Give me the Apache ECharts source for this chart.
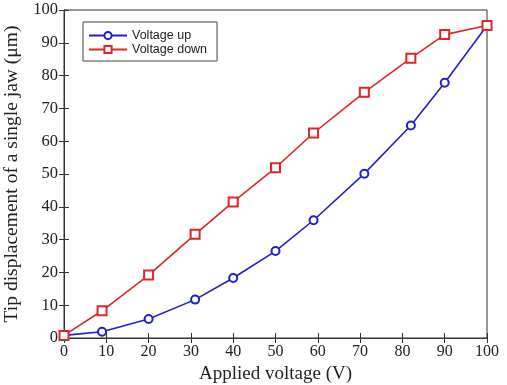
<!DOCTYPE html>
<html><head><meta charset="utf-8">
<script src="https://cdn.jsdelivr.net/npm/echarts@6/dist/echarts.min.js"></script>
<style>html,body{margin:0;padding:0;background:#fff}#c{width:507px;height:385px}</style>
</head><body><div id="c"></div>
<script>
const upVoltage = [0, 9, 20, 31, 40, 50, 59, 71, 82, 90, 100];
const upDisp = [0.8, 1.9, 5.8, 11.7, 18.3, 26.5, 35.9, 50.1, 64.8, 77.8, 95.3];
const downVoltage = [0, 9, 20, 31, 40, 50, 59, 71, 82, 90, 100];
const downDisp = [0.8, 8.3, 19.2, 31.6, 41.5, 51.9, 62.5, 74.9, 85.3, 92.5, 95.3];
const seriesNames = ['Voltage up', 'Voltage down'];
const xTitle = 'Applied voltage (V)';
const yTitle = 'Tip displacement of a single jaw (μm)';

const pair = (xs, ys) => xs.map((x, i) => [x, ys[i]]);
const serif = 'Liberation Serif';
const axisCommon = {
  type: 'value', min: 0, max: 100, interval: 10,
  axisLine: { show: true, lineStyle: { color: '#333', width: 1 } },
  axisTick: { show: true, inside: true, length: 5, lineStyle: { color: '#333' } },
  splitLine: { show: false }
};
const chart = echarts.init(document.getElementById('c'));
chart.setOption({
  backgroundColor: '#fff',
  animation: false,
  grid: { left: 64, right: 20, top: 10, bottom: 47, show: true, borderColor: '#333', borderWidth: 1,
          containLabel: false, outerBoundsMode: 'none' },
  legend: {
    orient: 'vertical', left: 83, top: 22, itemWidth: 38, itemHeight: 9, itemGap: 1,
    backgroundColor: '#fff', borderColor: '#444', borderWidth: 1, padding: [7, 10, 5, 5],
    textStyle: { fontFamily: 'Liberation Sans', fontSize: 12.5, color: '#222' },
    data: seriesNames
  },
  xAxis: [
    Object.assign({}, axisCommon, {
      position: 'bottom',
      name: xTitle, nameLocation: 'middle', nameGap: 22,
      nameTextStyle: { fontFamily: serif, fontSize: 19, color: '#222' },
      axisLabel: { fontFamily: serif, fontSize: 16, color: '#222', margin: 6 }
    }),
    Object.assign({}, axisCommon, { position: 'top', axisLabel: { show: false } })
  ],
  yAxis: [
    Object.assign({}, axisCommon, {
      position: 'left',
      name: yTitle, nameLocation: 'middle', nameGap: 36,
      nameTextStyle: { fontFamily: serif, fontSize: 19.5, color: '#222' },
      axisLabel: { fontFamily: serif, fontSize: 16.5, color: '#222', margin: 6 }
    }),
    Object.assign({}, axisCommon, { position: 'right', axisLabel: { show: false } })
  ],
  series: [
    {
      name: seriesNames[0], type: 'line', xAxisIndex: 0, yAxisIndex: 0,
      data: pair(upVoltage, upDisp),
      symbol: 'emptyCircle', symbolSize: 8,
      lineStyle: { color: '#2020cc', width: 1.6 },
      itemStyle: { color: '#2020cc', borderWidth: 1.3 }
    },
    {
      name: seriesNames[1], type: 'line', xAxisIndex: 0, yAxisIndex: 0,
      data: pair(downVoltage, downDisp),
      symbol: 'emptyRect', symbolSize: 9,
      lineStyle: { color: '#dd2626', width: 1.6 },
      itemStyle: { color: '#dd2626', borderWidth: 1.3 }
    }
  ]
});
</script></body></html>
